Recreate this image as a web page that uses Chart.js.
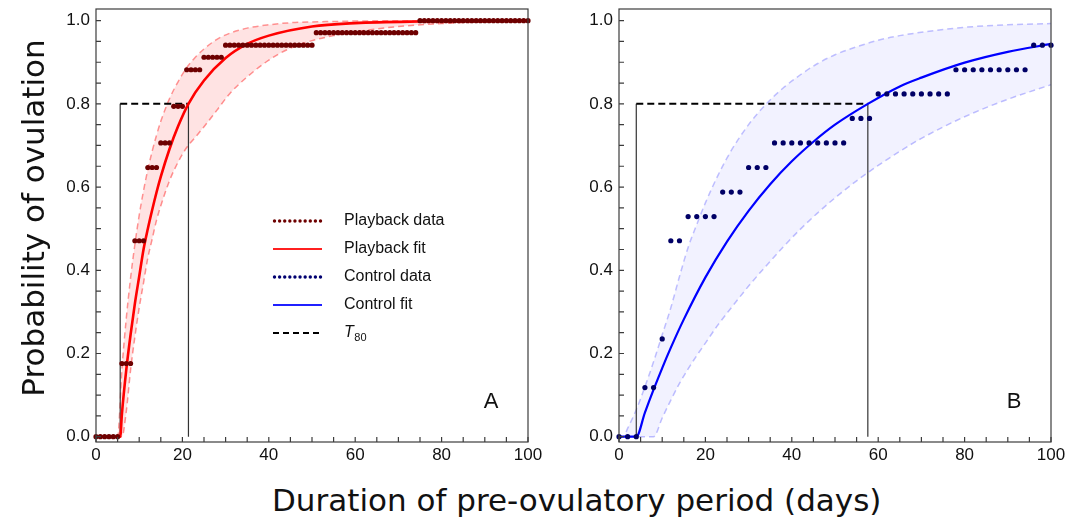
<!DOCTYPE html>
<html><head><meta charset="utf-8">
<script src="https://cdn.jsdelivr.net/npm/chart.js@4.4.1/dist/chart.umd.min.js"></script>
<style>
html,body{margin:0;padding:0;background:#fff;}
body{width:1082px;height:521px;position:relative;overflow:hidden;}
#ca{position:absolute;left:0;top:0;}
#cb{position:absolute;left:545px;top:0;}
#xt{position:absolute;left:272px;top:482px;width:600px;text-align:center;font-family:"DejaVu Sans";font-size:31px;line-height:36px;color:#111;white-space:nowrap;}
#yt{position:absolute;left:-167px;top:200px;width:400px;height:36px;text-align:center;font-family:"DejaVu Sans";font-size:31px;line-height:36px;color:#111;white-space:nowrap;transform:rotate(-90deg);}
</style></head>
<body>
<canvas id="ca" width="545" height="475"></canvas>
<canvas id="cb" width="537" height="475"></canvas>
<div id="xt">Duration of pre-ovulatory period (days)</div>
<div id="yt">Probability of ovulation</div>
<script>
// ---- tick values ----
const xMajorTicks = [0, 20, 40, 60, 80, 100];
const xMinorTicks = [5, 10, 15, 25, 30, 35, 45, 50, 55, 65, 70, 75, 85, 90, 95];
const yMajorTicks = [0, 0.2, 0.4, 0.6, 0.8, 1.0];
const yMinorTicks = [0.05, 0.1, 0.15, 0.25, 0.3, 0.35, 0.45, 0.5, 0.55, 0.65, 0.7, 0.75, 0.85, 0.9, 0.95];

// ---- Panel A: playback ----
const playbackDays = [0,1,2,3,4,5,6,7,8,9,10,11,12,13,14,15,16,17,18,19,20,21,22,23,24,25,26,27,28,29,30,31,32,33,34,35,36,37,38,39,40,41,42,43,44,45,46,47,48,49,50,51,52,53,54,55,56,57,58,59,60,61,62,63,64,65,66,67,68,69,70,71,72,73,74,75,76,77,78,79,80,81,82,83,84,85,86,87,88,89,90,91,92,93,94,95,96,97,98,99,100];
const playbackProb = [0,0,0,0,0,0,
  0.176,0.176,0.176,
  0.471,0.471,0.471,
  0.647,0.647,0.647,
  0.706,0.706,0.706,
  0.794,0.794,0.794,
  0.882,0.882,0.882,0.882,
  0.912,0.912,0.912,0.912,0.912,
  0.941,0.941,0.941,0.941,0.941,0.941,0.941,0.941,0.941,0.941,0.941,0.941,0.941,0.941,0.941,0.941,0.941,0.941,0.941,0.941,0.941,
  0.971,0.971,0.971,0.971,0.971,0.971,0.971,0.971,0.971,0.971,0.971,0.971,0.971,0.971,0.971,0.971,0.971,0.971,0.971,0.971,0.971,0.971,0.971,0.971,
  1,1,1,1,1,1,1,1,1,1,1,1,1,1,1,1,1,1,1,1,1,1,1,1,1,1];
const playbackFitX = [0,5.6,6,7,8,9,10,11,12,13,14,15,17,19,21.4,25,30,35,40,50,60,75,100];
const playbackFitY = [0,0,0.055,0.16,0.245,0.32,0.385,0.45,0.5,0.545,0.587,0.625,0.691,0.746,0.8,0.856,0.91,0.944,0.964,0.986,0.994,0.998,1.0];
const playbackBandX = [0,5,6,7,8,9,10,11,12,13,14,15,17,19,21,23,25,28,31,35,40,45,50,55,60,70,80,90,100];
const playbackUpper = [0,0,0.162,0.283,0.381,0.462,0.532,0.591,0.642,0.686,0.724,0.758,0.812,0.853,0.887,0.912,0.932,0.955,0.97,0.982,0.99,0.995,0.997,0.998,0.999,1,1,1,1];
const playbackLower = [0,0,0,0.06,0.16,0.24,0.31,0.37,0.43,0.475,0.52,0.555,0.615,0.66,0.695,0.72,0.745,0.785,0.825,0.865,0.905,0.934,0.952,0.964,0.973,0.986,0.993,0.997,0.998];
const playbackT80 = [5.6, 21.4];

// ---- Panel B: control ----
const controlDays = [0,2,4,6,8,10,12,14,16,18,20,22,24,26,28,30,32,34,36,38,40,42,44,46,48,50,52,54,56,58,60,62,64,66,68,70,72,74,76,78,80,82,84,86,88,90,92,94,96,98,100];
const controlProb = [0,0,0,
  0.118,0.118,
  0.235,
  0.471,0.471,
  0.529,0.529,0.529,0.529,
  0.588,0.588,0.588,
  0.647,0.647,0.647,
  0.706,0.706,0.706,0.706,0.706,0.706,0.706,0.706,0.706,
  0.765,0.765,0.765,
  0.824,0.824,0.824,0.824,0.824,0.824,0.824,0.824,0.824,
  0.882,0.882,0.882,0.882,0.882,0.882,0.882,0.882,0.882,
  0.941,0.941,0.941];
const controlFitX = [0,4,6,8,10,12,15,20,25,30,35,40,45,50,57.6,65,70,80,90,100];
const controlFitY = [0,0,0.058,0.113,0.165,0.214,0.282,0.383,0.469,0.543,0.607,0.662,0.709,0.75,0.8,0.842,0.863,0.899,0.925,0.944];
const controlBandX = [0,1,2,4,6,8,10,12,14,16,18,20,23,26,30,34,38,42,46,50,55,60,65,70,80,90,100];
const controlUpper = [0,0,0.02,0.065,0.12,0.18,0.245,0.31,0.385,0.455,0.51,0.562,0.63,0.688,0.75,0.799,0.838,0.87,0.897,0.918,0.937,0.953,0.964,0.972,0.984,0.99,0.993];
const controlLower = [0,0,0,0,0,0,0.045,0.088,0.128,0.163,0.195,0.225,0.27,0.31,0.362,0.41,0.456,0.499,0.538,0.574,0.615,0.652,0.686,0.717,0.769,0.811,0.846];
const controlT80 = [4, 57.6];

const T80_LEVEL = 0.8;

const pts = (xs, ys) => xs.map((x, i) => ({x: x, y: ys[i]}));

const decor = {
  id: 'decor',
  afterDatasetsDraw(chart, args, o) {
    const {ctx, chartArea: a, scales: {x, y}} = chart;
    ctx.save();
    ctx.strokeStyle = '#3c3c3c';
    ctx.lineWidth = 1.2;
    ctx.strokeRect(a.left, a.top, a.right - a.left, a.bottom - a.top);
    ctx.beginPath();
    xMajorTicks.concat(xMinorTicks).forEach(v => {
      const p = x.getPixelForValue(v);
      ctx.moveTo(p, a.bottom); ctx.lineTo(p, a.bottom - 5);
    });
    yMajorTicks.concat(yMinorTicks).forEach(v => {
      const p = y.getPixelForValue(v);
      ctx.moveTo(a.left, p); ctx.lineTo(a.left + 5, p);
    });
    ctx.stroke();
    // panel letter
    ctx.fillStyle = '#111';
    ctx.font = '22px "Liberation Sans"';
    ctx.textAlign = 'center';
    ctx.textBaseline = 'middle';
    ctx.fillText(o.letter, a.right - 37, a.bottom - 40);
    if (o.legend) {
      const rows = o.legend;
      rows.forEach((r, i) => {
        const yy = 221 + i * 28;
        const x0 = 273, x1 = 322;
        ctx.save();
        if (r.kind === 'dots') {
          ctx.fillStyle = r.color;
          for (let k = 0; k < 10; k++) {
            ctx.beginPath();
            ctx.arc(x0 + 1.5 + k * (x1 - x0 - 3) / 9, yy, 1.7, 0, Math.PI * 2);
            ctx.fill();
          }
        } else {
          ctx.strokeStyle = r.color;
          ctx.lineWidth = r.width;
          ctx.setLineDash(r.dash || []);
          ctx.beginPath(); ctx.moveTo(x0, yy); ctx.lineTo(x1, yy); ctx.stroke();
        }
        ctx.restore();
        ctx.fillStyle = '#111';
        ctx.textAlign = 'left';
        ctx.textBaseline = 'middle';
        if (r.t80) {
          ctx.font = 'italic 16px "Liberation Sans"';
          ctx.fillText('T', 344, yy);
          const w = ctx.measureText('T').width;
          ctx.font = '11px "Liberation Sans"';
          ctx.fillText('80', 344 + w + 0.5, yy + 5);
        } else {
          ctx.font = '16px "Liberation Sans"';
          ctx.fillText(r.label, 344, yy);
        }
      });
    }
    ctx.restore();
  }
};

function makePanel(canvas, cfg) {
  const lineBase = {pointRadius: 0, showLine: true, fill: false};
  const datasets = [
    {label: 'data', data: pts(cfg.dataX, cfg.dataY), showLine: false, pointRadius: 2.6, pointHoverRadius: 2.6,
     pointBackgroundColor: cfg.dotColor, pointBorderWidth: 0, clip: false, order: 0},
    Object.assign({label: 'fit', data: pts(cfg.fitX, cfg.fitY), borderColor: cfg.fitColor, borderWidth: cfg.fitWidth,
     cubicInterpolationMode: 'monotone', order: 1}, lineBase),
    Object.assign({label: 't80h', data: pts([cfg.t80[0], cfg.t80[1]], [T80_LEVEL, T80_LEVEL]), borderColor: '#000',
     borderWidth: 2, borderDash: [7, 4], order: 2}, lineBase),
    Object.assign({label: 't80l', data: pts([cfg.t80[0], cfg.t80[0]], [0, T80_LEVEL]), borderColor: '#333',
     borderWidth: 1.2, order: 3}, lineBase),
    Object.assign({label: 't80r', data: pts([cfg.t80[1], cfg.t80[1]], [0, T80_LEVEL]), borderColor: '#333',
     borderWidth: 1.2, order: 3}, lineBase),
    Object.assign({}, lineBase, {label: 'upper', data: pts(cfg.bandX, cfg.upper), borderColor: cfg.bandLine, borderWidth: 1.5,
     borderDash: [6, 4], cubicInterpolationMode: 'monotone', fill: '+1', backgroundColor: cfg.bandFill, order: 5}),
    Object.assign({label: 'lower', data: pts(cfg.bandX, cfg.lower), borderColor: cfg.bandLine, borderWidth: 1.5,
     borderDash: [6, 4], cubicInterpolationMode: 'monotone', order: 6}, lineBase)
  ];
  return new Chart(canvas, {
    type: 'line',
    data: {datasets: datasets},
    options: {
      responsive: false, animation: false, devicePixelRatio: 1,
      layout: {padding: {left: 0, top: 9, right: cfg.padRight, bottom: 0}},
      plugins: {legend: {display: false}, tooltip: {enabled: false}, decor: {letter: cfg.letter, legend: cfg.legend}},
      scales: {
        x: {type: 'linear', min: 0, max: 100,
          afterBuildTicks: s => { s.ticks = xMajorTicks.map(v => ({value: v})); },
          afterFit: s => { s.height = 33; s.paddingLeft = 0; s.paddingRight = 0; },
          ticks: {callback: v => String(v), font: {family: 'Liberation Sans', size: 17}, color: '#111', padding: 3, maxRotation: 0, autoSkip: false},
          grid: {display: false, drawTicks: false}, border: {display: false}},
        y: {type: 'linear', min: -0.0127, max: 1.028,
          afterBuildTicks: s => { s.ticks = yMajorTicks.map(v => ({value: v})); },
          afterFit: s => { s.width = cfg.yWidth; s.paddingTop = 0; s.paddingBottom = 0; },
          ticks: {callback: v => v.toFixed(1), font: {family: 'Liberation Sans', size: 17}, color: '#111', padding: 6, autoSkip: false},
          grid: {display: false, drawTicks: false}, border: {display: false}}
      }
    },
    plugins: [decor]
  });
}

makePanel(document.getElementById('ca'), {
  dataX: playbackDays, dataY: playbackProb, dotColor: '#6e0000',
  fitX: playbackFitX, fitY: playbackFitY, fitColor: '#ff0000', fitWidth: 2.6,
  bandX: playbackBandX, upper: playbackUpper, lower: playbackLower,
  bandLine: 'rgba(255,120,120,0.8)', bandFill: 'rgba(255,60,60,0.14)',
  t80: playbackT80, letter: 'A', padRight: 17, yWidth: 96,
  legend: [
    {kind: 'dots', color: '#6e0000', label: 'Playback data'},
    {kind: 'line', color: '#ff2020', width: 2, label: 'Playback fit'},
    {kind: 'dots', color: '#000070', label: 'Control data'},
    {kind: 'line', color: '#2020ff', width: 2, label: 'Control fit'},
    {kind: 'line', color: '#000', width: 2, dash: [6, 4], t80: true}
  ]
});
makePanel(document.getElementById('cb'), {
  dataX: controlDays, dataY: controlProb, dotColor: '#000066',
  fitX: controlFitX, fitY: controlFitY, fitColor: '#0000ff', fitWidth: 2.2,
  bandX: controlBandX, upper: controlUpper, lower: controlLower,
  bandLine: 'rgba(150,150,255,0.6)', bandFill: 'rgba(90,90,255,0.08)',
  t80: controlT80, letter: 'B', padRight: 31, yWidth: 74, legend: null
});
</script>
</body></html>
